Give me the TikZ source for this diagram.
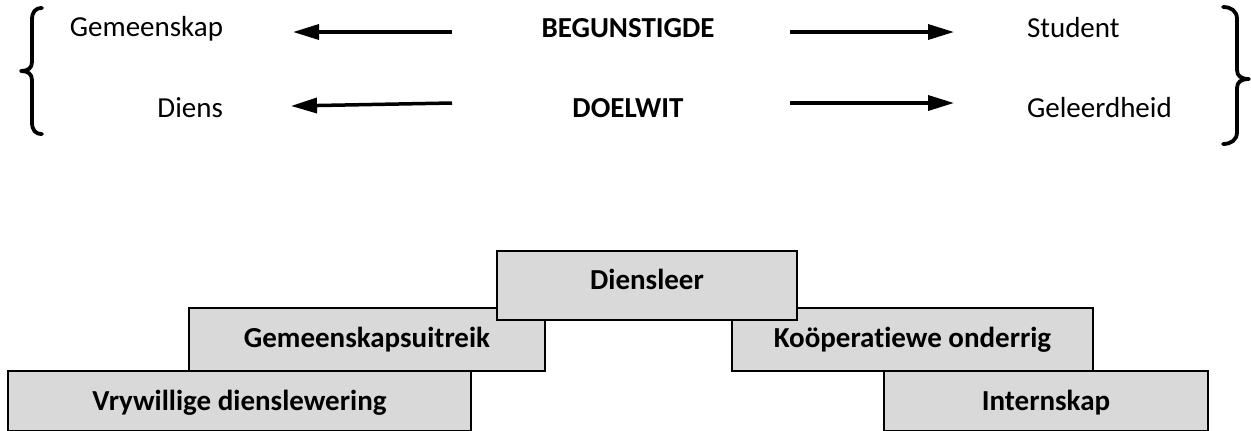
\documentclass[tikz,border=0pt]{standalone}
\usepackage{fontspec}
\setmainfont{Carlito}[Ligatures=NoCommon]
\usetikzlibrary{arrows.meta}
\definecolor{boxgray}{RGB}{217,217,217}
\begin{document}
\begin{tikzpicture}[x={(0.5pt,0)}, y={(0,-0.5pt)},
  every node/.style={inner sep=0pt, outer sep=0pt, font=\fontsize{14.5}{17}\selectfont},
  lbl/.style={anchor=base},
  arr/.style={line width=1.75pt, -{Triangle[length=13pt,width=7.5pt]}},
  brace/.style={line width=1.9pt, line cap=round, line join=round},
  stepbox/.style={draw=black, line width=1pt, fill=boxgray, font=\fontsize{14.5}{17}\selectfont\bfseries, text height=9.4pt},
]
\useasboundingbox (0,0) rectangle (1251,430);

% braces
\draw[brace] (42,8) .. controls (35,8) and (32,12) .. (32,20) -- (32,62)
  .. controls (32,68) and (28,71) .. (21,71)
  .. controls (28,71) and (32,74) .. (32,80) -- (32,122)
  .. controls (32,130) and (35,134) .. (42,134);
\draw[brace] (1223,7) .. controls (1231,7) and (1237,11) .. (1237,19) -- (1237,70)
  .. controls (1237,76) and (1241,79) .. (1249,79)
  .. controls (1241,79) and (1237,82) .. (1237,88) -- (1237,132)
  .. controls (1237,140) and (1231,144) .. (1223,144);

% top texts
\node[lbl, anchor=base east] (gem) at (223,36) {Gemeenskap};
\node[lbl, anchor=base east] (dien) at (223,117) {Diens};
\node[lbl, font=\fontsize{14.5}{17}\selectfont\bfseries] (beg) at (628,37) {BEGUNSTIGDE};
\node[lbl, font=\fontsize{14.5}{17}\selectfont\bfseries] (doel) at (628,117) {DOELWIT};
\node[lbl, anchor=base west] (stud) at (1027,37) {Student};
\node[lbl, anchor=base west] (gel) at (1027,117) {Geleerdheid};

% arrow ends
\coordinate (a1s) at (452,32);
\coordinate (a1e) at (293,32);
\coordinate (a2s) at (452,103);
\coordinate (a2e) at (291,106);
\coordinate (a3s) at (790,32);
\coordinate (a3e) at (954,32);
\coordinate (a4s) at (790,103);
\coordinate (a4e) at (954,103);
\draw[arr] (a1s) -- (a1e);
\draw[arr] (a2s) -- (a2e);
\draw[arr] (a3s) -- (a3e);
\draw[arr] (a4s) -- (a4e);

% boxes
\node[stepbox, minimum width=231.5pt, minimum height=30pt, text depth=0.4pt] (vry) at (239.5,401) {Vrywillige dienslewering};
\node[stepbox, minimum width=162pt, minimum height=30pt, text depth=0.4pt] (int) at (1046,401) {Internskap};
\node[stepbox, minimum width=178pt, minimum height=31.5pt, text depth=1.9pt] (uit) at (367,339.5) {Gemeenskapsuitreik};
\node[stepbox, minimum width=180.5pt, minimum height=31.5pt, text depth=1.9pt] (koo) at (912.5,339.5) {Koöperatiewe onderrig};
\node[stepbox, minimum width=150pt, minimum height=34.5pt, text depth=5.9pt] (dsl) at (647,285.5) {Diensleer};
\end{tikzpicture}
\end{document}
